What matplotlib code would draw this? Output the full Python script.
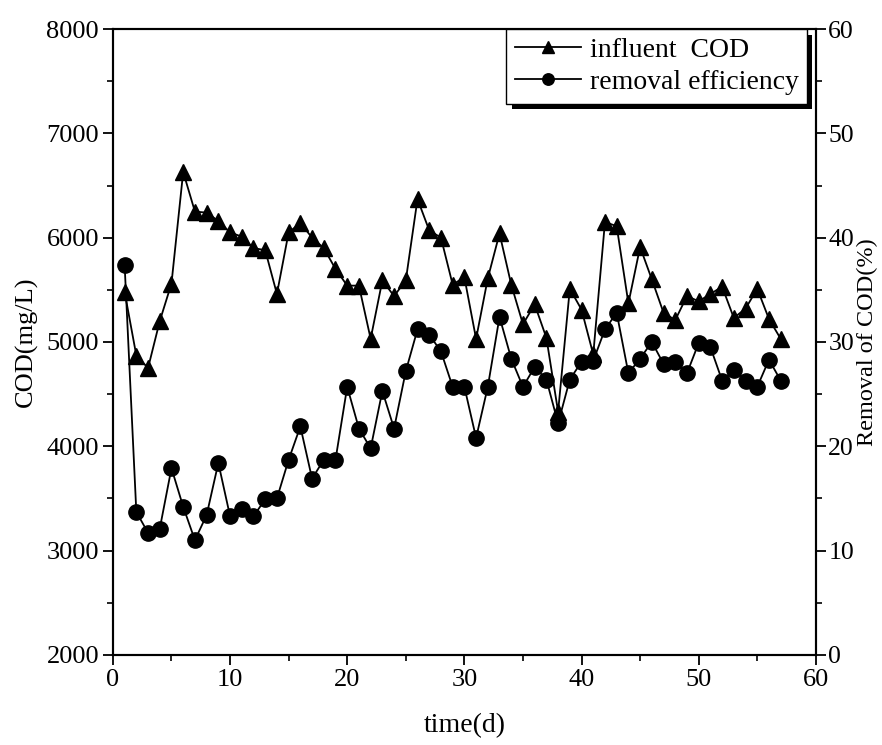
import matplotlib
matplotlib.use("Agg")
import matplotlib.pyplot as plt
from matplotlib.ticker import MultipleLocator
import matplotlib.patheffects as pe

plt.rcParams['font.family'] = ['Liberation Serif', 'DejaVu Serif']

days = list(range(1, 58))
influent_cod = [5480, 4870, 4750, 5200, 5560, 6630, 6250, 6240, 6160, 6050,
                6010, 5900, 5880, 5460, 6050, 6140, 6000, 5900, 5700, 5540,
                5540, 5030, 5590, 5440, 5590, 6370, 6070, 6000, 5550, 5620,
                5030, 5610, 6040, 5550, 5170, 5360, 5040, 4330, 5510, 5310,
                4880, 6150, 6110, 5370, 5910, 5600, 5280, 5210, 5440, 5390,
                5460, 5530, 5230, 5320, 5510, 5220, 5030]
removal_eff = [37.4, 13.7, 11.7, 12.1, 17.9, 14.2, 11.0, 13.4, 18.4, 13.3,
               14.0, 13.3, 14.9, 15.0, 18.7, 21.9, 16.9, 18.7, 18.7, 25.7,
               21.7, 19.8, 25.3, 21.7, 27.2, 31.2, 30.7, 29.1, 25.7, 25.7,
               20.8, 25.7, 32.4, 28.4, 25.7, 27.6, 26.4, 22.2, 26.4, 28.1,
               28.2, 31.2, 32.8, 27.0, 28.4, 30.0, 27.9, 28.1, 27.0, 29.9,
               29.5, 26.3, 27.3, 26.3, 25.7, 28.3, 26.3]

fig = plt.figure(figsize=(8.82, 7.45), dpi=100)
ax = fig.add_axes([0.128, 0.121, 0.797, 0.840])
ax2 = ax.twinx()

l1, = ax.plot(days, influent_cod, color='black', lw=1.3, marker='^', markersize=11,
              label='influent  COD')
l2, = ax2.plot(days, removal_eff, color='black', lw=1.3, marker='o', markersize=11,
               label='removal efficiency')

ax.set_xlim(0, 60)
ax.set_ylim(2000, 8000)
ax2.set_ylim(0, 60)

ax.xaxis.set_major_locator(MultipleLocator(10))
ax.xaxis.set_minor_locator(MultipleLocator(5))
ax.yaxis.set_major_locator(MultipleLocator(1000))
ax.yaxis.set_minor_locator(MultipleLocator(500))
ax2.yaxis.set_major_locator(MultipleLocator(10))
ax2.yaxis.set_minor_locator(MultipleLocator(5))

for a in (ax, ax2):
    for s in a.spines.values():
        s.set_linewidth(1.5)
ax.tick_params(axis='both', which='major', direction='out', length=7, width=1.3,
               labelsize=19, pad=3)
ax.tick_params(axis='both', which='minor', direction='out', length=4, width=1.2)
ax.tick_params(axis='x', top=False)
ax2.tick_params(axis='y', which='major', direction='out', length=7, width=1.3,
                labelsize=18.5, pad=2)
ax2.tick_params(axis='y', which='minor', direction='out', length=4, width=1.2)

ax.set_xlabel('time(d)', fontsize=20, labelpad=16)
ax.set_ylabel('COD(mg/L)', fontsize=19, labelpad=6)
ax2.set_ylabel('Removal of COD(%)', fontsize=17.5, labelpad=2)

leg = ax2.legend(handles=[l1, l2], loc='upper right', bbox_to_anchor=(0.987, 1.0),
                 borderaxespad=0, fontsize=20, frameon=True, fancybox=False,
                 shadow=False, edgecolor='black', framealpha=1,
                 handlelength=2.4, handletextpad=0.3, borderpad=0.3,
                 labelspacing=0.25, markerscale=0.75)
frame = leg.get_frame()
frame.set_linewidth(1.0)
frame.set_path_effects([pe.SimplePatchShadow(offset=(4, -4), shadow_rgbFace='black',
                                             alpha=1.0), pe.Normal()])

fig.savefig('out.png', dpi=100)
